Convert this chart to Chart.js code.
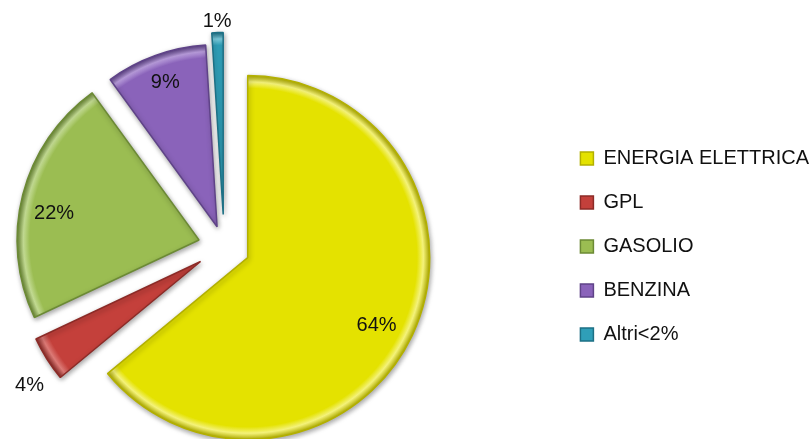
<!DOCTYPE html>
<html lang="it">
<head>
<meta charset="UTF-8">
<title>Consumi per fonte</title>
<style>
    body {
        margin: 0;
        background-color: #ffffff;
        overflow: hidden;
    }

    /* canvas piu' largo della pagina: la torta resta a sinistra, la legenda a destra */
    #chartcc {
        width: 927px;
        height: 439px;
        margin-left: -108px;
    }
</style>
</head>
<body>
<div id="chartcc">
    <canvas id="pie-chart"></canvas>
</div>
<script src="https://cdn.jsdelivr.net/npm/chart.js"></script>
<script>
    // quote percentuali per fonte
    const fonti = ['ENERGIA ELETTRICA', 'GPL', 'GASOLIO', 'BENZINA', 'Altri<2%'];
    const quote = [64, 4, 22, 9, 1];

    const colori = ['#E4E200', '#C4403B', '#9BBD52', '#8A63BA', '#2F9FB8'];
    const bordi = ['#B3B000', '#8C2B27', '#6C8A35', '#5F4388', '#1D7085'];
    const riflessi = ['#F4F27A', '#DC7A76', '#C2DA92', '#B79BDA', '#7CCCDD'];

    // distanza di esplosione di ogni fetta (px), posizione dell'etichetta
    // (frazione del raggio) e piccola rotazione dell'etichetta (gradi)
    const esplodi = [26, 28, 26, 21, 32];
    const posEtichetta = [0.80, 1.16, 0.81, 0.84, 1.06];
    const ruotaEtichetta = [2.6, -3.5, -4, 0, 0];

    const FONT = '"Liberation Sans", Arial, sans-serif';

    // sposta le fette lungo la bisettrice e applica un leggero bordo in rilievo
    const explodePlugin = {
        id: 'explode',
        afterDatasetUpdate(chart, args) {
            const c = chart.ctx;
            args.meta.data.forEach((arc, i) => {
                const mid = (arc.startAngle + arc.endAngle) / 2;
                arc.x += Math.cos(mid) * esplodi[i];
                arc.y += Math.sin(mid) * esplodi[i];
                const g = c.createRadialGradient(arc.x, arc.y, 0, arc.x, arc.y, arc.outerRadius);
                g.addColorStop(0, colori[i]);
                g.addColorStop(0.93, colori[i]);
                g.addColorStop(0.965, riflessi[i]);
                g.addColorStop(1, bordi[i]);
                arc.options.backgroundColor = g;
            });
        }
    };

    const shadowPlugin = {
        id: 'sliceShadow',
        beforeDatasetsDraw(chart) {
            const ctx = chart.ctx;
            ctx.save();
            ctx.shadowColor = 'rgba(0,0,0,0.35)';
            ctx.shadowBlur = 5;
            ctx.shadowOffsetX = 1;
            ctx.shadowOffsetY = 2;
        },
        afterDatasetsDraw(chart) {
            chart.ctx.restore();
        }
    };

    const labelPlugin = {
        id: 'pctLabels',
        afterDatasetsDraw(chart) {
            const ctx = chart.ctx;
            const meta = chart.getDatasetMeta(0);
            ctx.save();
            ctx.font = '20px ' + FONT;
            ctx.fillStyle = '#111111';
            ctx.textAlign = 'center';
            ctx.textBaseline = 'middle';
            meta.data.forEach((arc, i) => {
                const mid = (arc.startAngle + arc.endAngle) / 2 + ruotaEtichetta[i] * Math.PI / 180;
                const r = arc.outerRadius * posEtichetta[i];
                ctx.fillText(quote[i] + '%', arc.x + Math.cos(mid) * r, arc.y + Math.sin(mid) * r);
            });
            ctx.restore();
        }
    };

    const ctx = document.getElementById('pie-chart').getContext('2d');
    const pieChart = new Chart(ctx, {
        type: 'pie',
        data: {
            labels: fonti,
            datasets: [{
                data: quote,
                backgroundColor: colori,
                borderColor: bordi,
                borderWidth: 1.5
            }]
        },
        options: {
            responsive: true,
            maintainAspectRatio: false,
            animation: false,
            radius: 182,
            layout: {
                padding: { left: 0, right: 0, top: 54, bottom: 0 }
            },
            plugins: {
                tooltip: { enabled: false },
                legend: {
                    position: 'right',
                    labels: {
                        boxWidth: 13,
                        boxHeight: 13,
                        padding: 24,
                        color: '#111111',
                        font: { family: FONT, size: 20 },
                        generateLabels(chart) {
                            return fonti.map((f, i) => ({
                                text: f,
                                fillStyle: colori[i],
                                strokeStyle: bordi[i],
                                lineWidth: 1.5,
                                fontColor: '#111111',
                                index: i
                            }));
                        }
                    }
                }
            }
        },
        plugins: [explodePlugin, shadowPlugin, labelPlugin]
    });
</script>
</body>
</html>
